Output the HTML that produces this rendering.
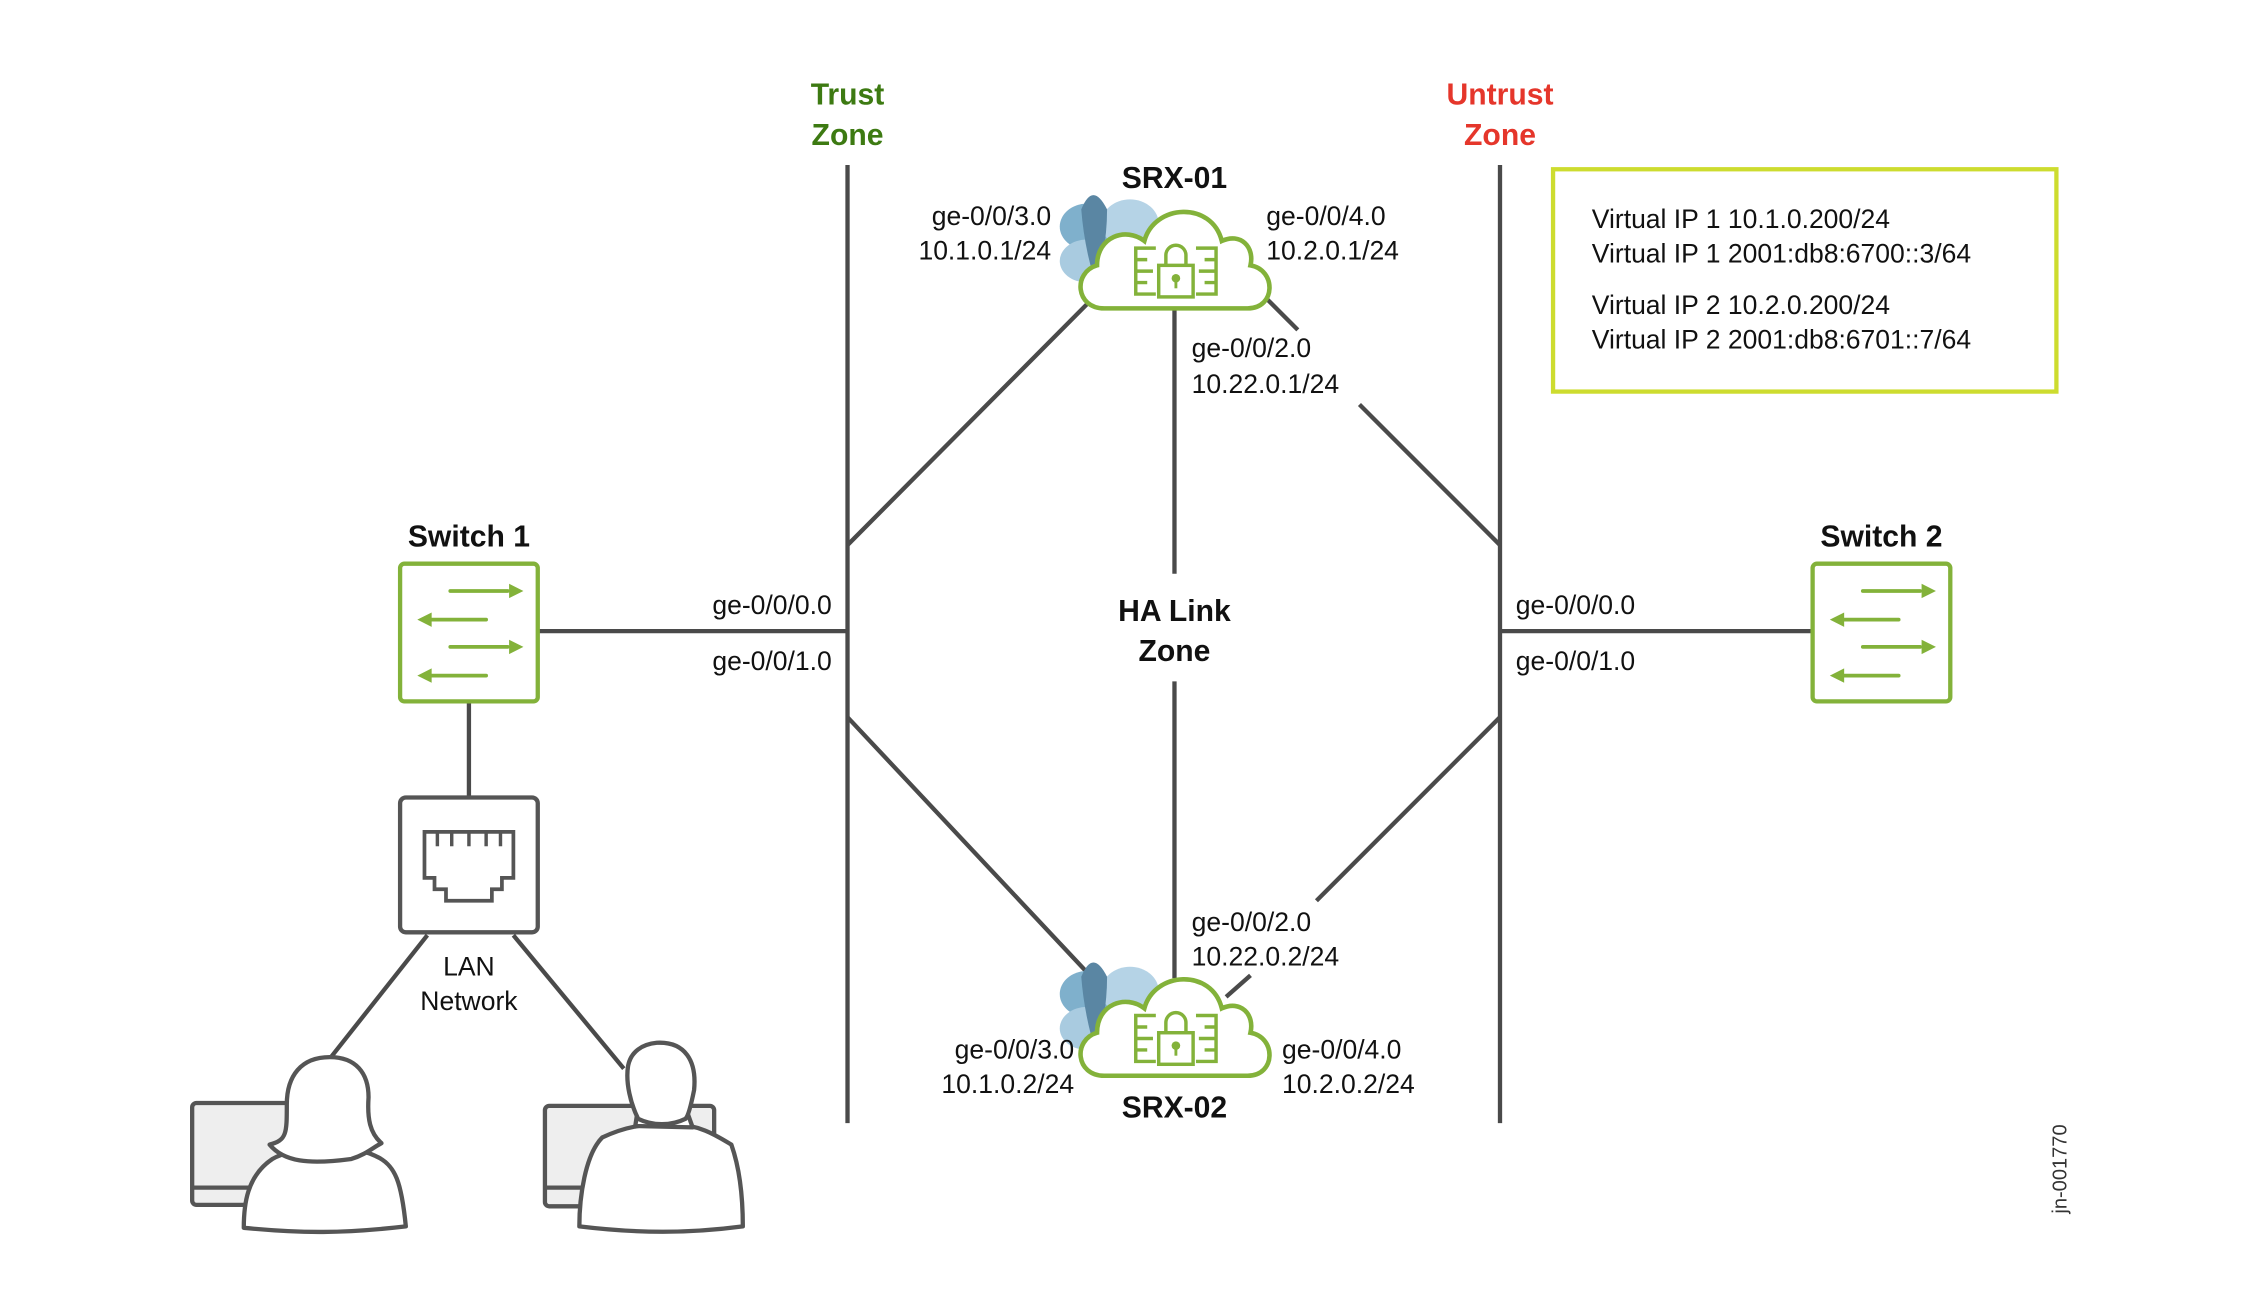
<!DOCTYPE html>
<html><head><meta charset="utf-8"><style>
html,body{margin:0;padding:0;background:#fff;width:2250px;height:1311px;overflow:hidden}
svg{display:block}
text{font-family:"Liberation Sans",sans-serif;fill:#111}
.l{font-size:18.5px}
.b{font-size:21px;font-weight:bold}
</style></head><body>
<svg width="2250" height="1311" viewBox="0 0 1569 914" preserveAspectRatio="none" xmlns="http://www.w3.org/2000/svg">
<defs>
<g id="cloud">
  <g>
    <ellipse cx="-62" cy="-22" rx="19" ry="16" fill="#7fb0cc"/>
    <ellipse cx="-62" cy="2" rx="19" ry="15" fill="#a9cbe0"/>
    <ellipse cx="-32" cy="-24" rx="20" ry="17" fill="#b5d3e6"/>
    <ellipse cx="-44" cy="10" rx="16" ry="14" fill="#c7dfec"/>
    <path d="M-66,-34 Q-58,-54 -48,-34 Q-48,-8 -56,18 Q-64,-8 -66,-34Z" fill="#5a86a3"/>
  </g>
  <path d="M-50,35 C-70,35 -72,10 -55,5 C-55,-15 -35,-22 -22,-12 C-15,-38 25,-40 32,-12 C45,-18 55,-8 52,5 C70,8 70,35 50,35 Z" fill="#fff" stroke="#83b23a" stroke-width="3.2"/>
  <g fill="none" stroke="#83b23a" stroke-width="2.4">
    <path d="M-14,-7 H-28 V25 H-14 M-28,1 H-20 M-28,9 H-16 M-28,17 H-20"/>
    <path d="M14,-7 H28 V25 H14 M28,1 H20 M28,9 H16 M28,17 H20"/>
    <rect x="-12" y="5" width="24" height="22"/>
    <path d="M-7,5 V-2 A7,7 0 0 1 7,-2 V5"/>
  </g>
  <circle cx="0" cy="14" r="3" fill="#83b23a"/>
  <rect x="-1" y="14" width="2" height="7" fill="#83b23a"/>
</g>
<g id="sw">
  <rect x="0" y="0" width="96" height="96" rx="3" fill="#fff" stroke="#83b23a" stroke-width="3"/>
  <g stroke="#83b23a" stroke-width="2.6" stroke-linecap="round">
    <line x1="35" y1="19" x2="75" y2="19"/><line x1="22" y1="39" x2="60" y2="39"/>
    <line x1="35" y1="58" x2="75" y2="58"/><line x1="22" y1="78" x2="60" y2="78"/>
  </g>
  <g fill="#83b23a">
    <path d="M86,19 L76,14 L76,24Z"/><path d="M12,39 L22,34 L22,44Z"/>
    <path d="M86,58 L76,53 L76,63Z"/><path d="M12,78 L22,73 L22,83Z"/>
  </g>
</g>
</defs>

<g stroke="#4a4a4a" stroke-width="3" fill="none">
  <line x1="591" y1="115" x2="591" y2="783"/>
  <line x1="1046" y1="115" x2="1046" y2="783"/>
  <line x1="591" y1="380" x2="760" y2="210"/>
  <line x1="1046" y1="380" x2="948" y2="282"/>
  <line x1="883" y1="208" x2="905" y2="230"/>
  <line x1="819" y1="215" x2="819" y2="400"/>
  <line x1="819" y1="475" x2="819" y2="682"/>
  <line x1="591" y1="500" x2="760" y2="680"/>
  <line x1="1046" y1="500" x2="918" y2="628"/>
  <line x1="855" y1="695" x2="872" y2="680"/>
  <line x1="375" y1="440" x2="591" y2="440"/>
  <line x1="1046" y1="440" x2="1264" y2="440"/>
  <line x1="327" y1="489" x2="327" y2="556"/>
  <line x1="298" y1="652" x2="230" y2="738"/>
  <line x1="358" y1="652" x2="435" y2="745"/>
</g>

<use href="#cloud" x="820" y="180"/>
<use href="#cloud" x="820" y="715"/>
<use href="#sw" x="279" y="393"/>
<use href="#sw" x="1264" y="393"/>

<rect x="279" y="556" width="96" height="94" rx="4" fill="#fff" stroke="#555" stroke-width="3"/>
<path d="M296,580 H358 V612 H350 V620 H343 V628 H311 V620 H303 V612 H296 Z" fill="none" stroke="#555" stroke-width="2.6"/>
<g stroke="#555" stroke-width="2.4"><line x1="305" y1="580" x2="305" y2="590"/><line x1="315" y1="580" x2="315" y2="590"/><line x1="327" y1="580" x2="327" y2="590"/><line x1="339" y1="580" x2="339" y2="590"/><line x1="349" y1="580" x2="349" y2="590"/></g>

<g stroke="#555" stroke-width="3" stroke-linejoin="round">
  <rect x="134" y="769" width="70" height="71" rx="3" fill="#eee"/>
  <line x1="134" y1="828" x2="190" y2="828"/>
  <path d="M190,808 C200,802 215,802 226,800 C235,800 250,800 262,806 C276,812 280,825 283,855 C240,860 210,860 170,856 C170,840 172,820 190,808Z" fill="#fff"/>
  <path d="M212,805 L214,796 L240,796 L243,806Z" fill="#fff"/>
  <path d="M230,737 C210,737 200,750 200,770 C200,790 200,795 188,798 C198,810 215,812 245,808 C255,805 260,800 266,797 C258,790 256,780 257,765 C257,748 248,737 230,737Z" fill="#fff"/>
</g>
<g stroke="#555" stroke-width="3" stroke-linejoin="round">
  <rect x="380" y="771" width="118" height="70" rx="3" fill="#eee"/>
  <line x1="380" y1="828" x2="420" y2="828"/>
  <path d="M420,793 C435,786 448,783 470,784 C488,784 500,792 510,798 C516,815 518,835 518,855 C480,860 445,860 404,855 C404,835 408,805 420,793Z" fill="#fff"/>
  <path d="M443,785 L445,772 L478,772 L483,786Z" fill="#fff"/>
  <path d="M438,743 C440,733 448,728 458,727 C478,726 486,740 484,760 C482,770 480,778 478,780 C468,785 455,785 445,780 C440,770 436,755 438,743Z" fill="#fff"/>
</g>

<rect x="1083" y="118" width="351" height="155" fill="#fff" stroke="#cddc2f" stroke-width="3"/>
<text class="l" x="1110" y="159">Virtual IP 1 10.1.0.200/24</text>
<text class="l" x="1110" y="183">Virtual IP 1 2001:db8:6700::3/64</text>
<text class="l" x="1110" y="219">Virtual IP 2 10.2.0.200/24</text>
<text class="l" x="1110" y="243">Virtual IP 2 2001:db8:6701::7/64</text>

<text class="b" x="591" y="73" text-anchor="middle" style="fill:#3d7a12">Trust</text>
<text class="b" x="591" y="101" text-anchor="middle" style="fill:#3d7a12">Zone</text>
<text class="b" x="1046" y="73" text-anchor="middle" style="fill:#e5362b">Untrust</text>
<text class="b" x="1046" y="101" text-anchor="middle" style="fill:#e5362b">Zone</text>
<text class="b" x="819" y="131" text-anchor="middle">SRX-01</text>
<text class="b" x="819" y="779" text-anchor="middle">SRX-02</text>
<text class="b" x="819" y="433" text-anchor="middle">HA Link</text>
<text class="b" x="819" y="461" text-anchor="middle">Zone</text>
<text class="b" x="327" y="381" text-anchor="middle">Switch 1</text>
<text class="b" x="1312" y="381" text-anchor="middle">Switch 2</text>

<text class="l" x="733" y="157" text-anchor="end">ge-0/0/3.0</text>
<text class="l" x="733" y="181" text-anchor="end">10.1.0.1/24</text>
<text class="l" x="883" y="157">ge-0/0/4.0</text>
<text class="l" x="883" y="181">10.2.0.1/24</text>
<text class="l" x="831" y="249">ge-0/0/2.0</text>
<text class="l" x="831" y="274">10.22.0.1/24</text>
<text class="l" x="831" y="649">ge-0/0/2.0</text>
<text class="l" x="831" y="673">10.22.0.2/24</text>
<text class="l" x="749" y="738" text-anchor="end">ge-0/0/3.0</text>
<text class="l" x="749" y="762" text-anchor="end">10.1.0.2/24</text>
<text class="l" x="894" y="738">ge-0/0/4.0</text>
<text class="l" x="894" y="762">10.2.0.2/24</text>
<text class="l" x="580" y="428" text-anchor="end">ge-0/0/0.0</text>
<text class="l" x="580" y="467" text-anchor="end">ge-0/0/1.0</text>
<text class="l" x="1057" y="428">ge-0/0/0.0</text>
<text class="l" x="1057" y="467">ge-0/0/1.0</text>
<text class="l" x="327" y="680" text-anchor="middle">LAN</text>
<text class="l" x="327" y="704" text-anchor="middle">Network</text>
<text x="1441" y="815" text-anchor="middle" transform="rotate(-90 1441 815)" style="font-size:14px;fill:#333">jn-001770</text>
</svg>
</body></html>
